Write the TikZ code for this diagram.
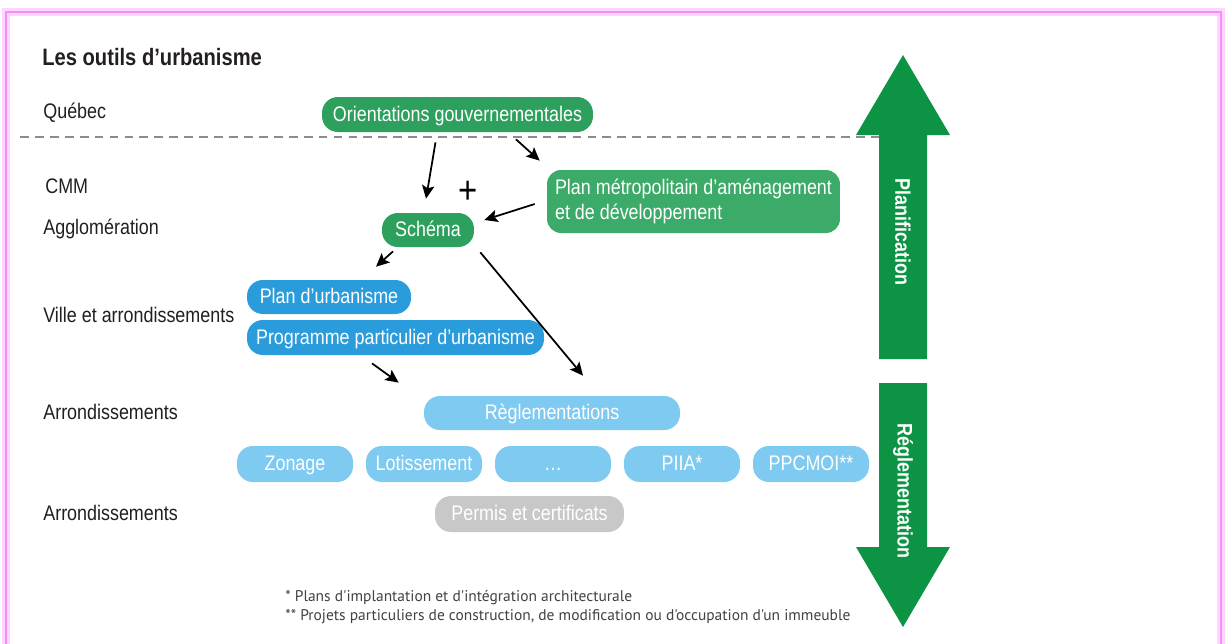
\documentclass[tikz,border=0pt]{standalone}
\usepackage{fontspec}
\setmainfont[FakeStretch=0.85]{Liberation Sans}
\newfontfamily\notefont{PT Sans}
\usetikzlibrary{calc,arrows.meta,positioning}
\definecolor{vertfonce}{RGB}{12,148,68}
\definecolor{vert}{RGB}{46,160,94}
\definecolor{vertpale}{RGB}{60,170,104}
\definecolor{bleu}{RGB}{42,156,219}
\definecolor{bleuclair}{RGB}{126,202,240}
\definecolor{grispale}{RGB}{200,200,200}
\definecolor{rose}{RGB}{250,140,250}
\definecolor{encre}{RGB}{35,31,32}
\tikzstyle{outil}=[rounded corners=9pt,inner sep=0pt,text=white,font=\fontsize{12}{14.7}\selectfont,minimum height=0.7cm]
\tikzstyle{ligne}=[text height=9.5pt,text depth=2pt]
\tikzstyle{niveau}=[anchor=west,inner sep=0pt,text=encre,font=\fontsize{12}{14}\selectfont]
\tikzstyle{fleche}=[-{Stealth[length=7.5pt,width=7pt,inset=1.5pt]},line width=1pt,black]
\tikzstyle{axe}=[rotate=-90,text=white,font=\fontsize{12}{14}\selectfont\bfseries]

\begin{document}
\begin{tikzpicture}[x=0.02cm,y=-0.02cm]
\useasboundingbox (0,0) rectangle (1226,643);
\clip (0,0) rectangle (1226,643);
\fill[white] (0,0) rectangle (1226,643);
\draw[rose!35,line width=5pt] (6,12) rectangle (1221,700);
\draw[rose,line width=1.5pt] (6,12) rectangle (1221,700);

% niveaux
\node[niveau,font=\fontsize{13.5}{16}\selectfont\bfseries] (titre) at (42,57) {Les outils d'urbanisme};
\node[niveau] (quebec) at (43,113) {Québec};
\node[niveau] (cmm) at (45,186) {CMM};
\node[niveau] (agglo) at (43,229) {Agglomération};
\node[niveau] (ville) at (43,315) {Ville et arrondissements};
\node[niveau] (arr1) at (43,412) {Arrondissements};
\node[niveau] (arr2) at (43,513) {Arrondissements};

\draw[black!45,line width=1.3pt,dash pattern=on 5pt off 3.5pt] (20,137) -- (879,137);

% grandes fleches
\fill[vertfonce] (879,359) -- (879,135) -- (856,135) -- (903,55) -- (950,135) -- (927,135) -- (927,359) -- cycle;
\fill[vertfonce] (879,383) -- (927,383) -- (927,547) -- (950,547) -- (903,627) -- (856,547) -- (879,547) -- cycle;
\node[axe] (planif) at (903,232) {Planification};
\node[axe] (reglmt) at (903,491) {Réglementation};

% outils
\node[outil,ligne,fill=vert,minimum width=5.42cm] (orient) at (457.5,114.5) {Orientations gouvernementales};
\node[outil,fill=vertpale,minimum width=5.86cm,minimum height=1.26cm,align=left,rounded corners=8pt] (metro) at (693.5,201.5) {Plan métropolitain d'aménagement\\et de développement};
\node[outil,ligne,fill=vert,minimum width=1.84cm,minimum height=0.68cm] (schema) at (428,230) {Schéma};
\node[font=\fontsize{22}{22}\selectfont] (plus) at (468,192) {+};
\node[outil,ligne,fill=bleu,minimum width=3.28cm,minimum height=0.68cm] (planurb) at (329,297) {Plan d'urbanisme};
\node[outil,ligne,fill=bleu,minimum width=5.94cm] (ppu) at (395.5,337.5) {Programme particulier d'urbanisme};
\node[outil,ligne,fill=bleuclair,minimum width=5.12cm,minimum height=0.68cm] (regl) at (552,413) {Règlementations};
\foreach \nom/\texte [count=\i from 0] in {zonage/Zonage,lotis/Lotissement,autres/\ldots,piia/PIIA*,ppcmoi/PPCMOI**}
  \node[outil,ligne,fill=bleuclair,minimum width=2.32cm,minimum height=0.72cm] (\nom) at (295+129*\i,464) {\texte};
\node[outil,ligne,fill=grispale,minimum width=3.78cm,minimum height=0.72cm] (permis) at (529.5,514) {Permis et certificats};

\draw[fleche] ($(orient.south)+(-22,10)$) -- ($(schema.north)+(-2,-14)$);
\draw[fleche] ($(orient.south)+(58.5,7)$) -- ($(metro.north west)+(-7,-9)$);
\draw[fleche] ($(metro.west)+(-12,2.5)$) -- ($(schema.east)+(10,-10)$);
\draw[fleche] ($(schema.south)+(-35,4)$) -- ($(planurb.north)+(47,-13)$);
\draw[fleche] ($(schema.south east)+(6,5)$) -- ($(regl.north)+(31,-20)$);
\draw[fleche] ($(ppu.south)+(-23.5,8)$) -- ($(regl.north west)+(-25,-13)$);

% notes
\node[anchor=west,inner sep=0pt,text=encre!85,font=\notefont\fontsize{8.8}{11}\selectfont] (note1) at (285,598) {* Plans d'implantation et d'intégration architecturale};
\node[anchor=west,inner sep=0pt,text=encre!85,font=\notefont\fontsize{8.8}{11}\selectfont] (note2) at (285,617) {** Projets particuliers de construction, de modification ou d'occupation d'un immeuble};
\end{tikzpicture}
\end{document}
